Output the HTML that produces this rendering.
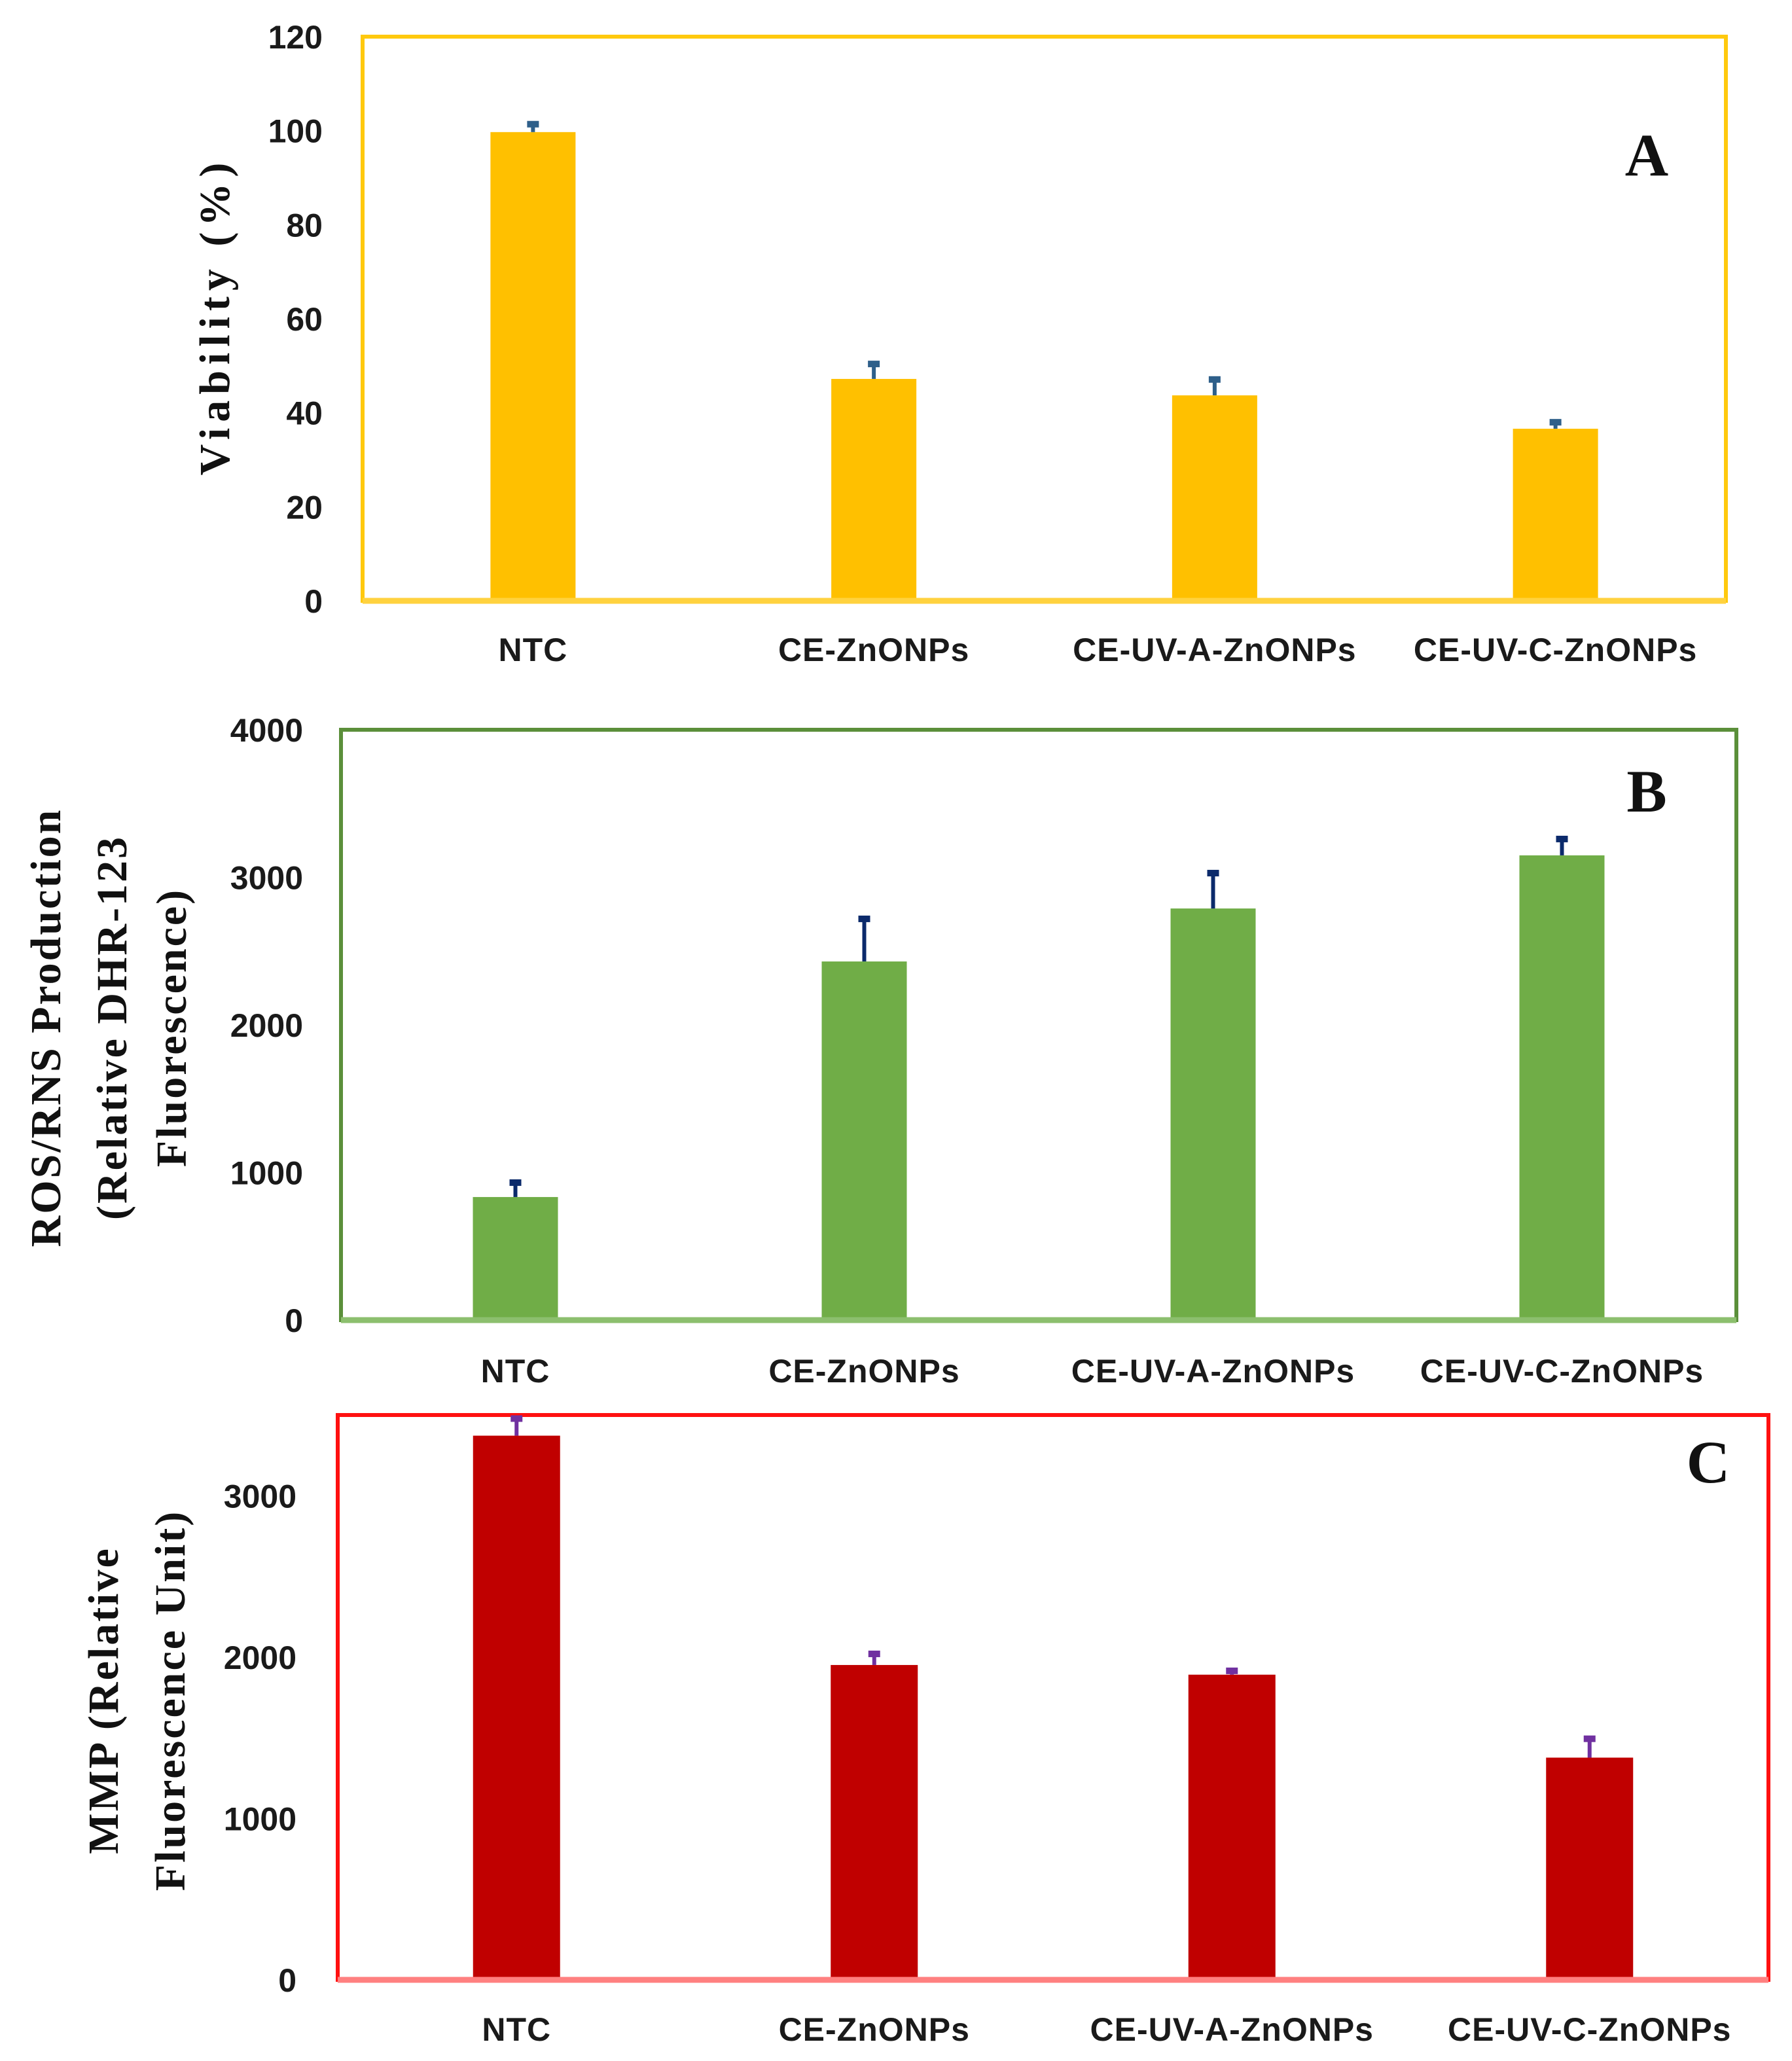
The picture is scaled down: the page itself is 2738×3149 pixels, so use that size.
<!DOCTYPE html>
<html><head><meta charset="utf-8"><style>
html,body{margin:0;padding:0;background:#fff;}
svg{display:block;}
.tick{font-family:"Liberation Sans",sans-serif;font-weight:bold;font-size:50px;fill:#1a1a1a;}
.cat{font-family:"Liberation Sans",sans-serif;font-weight:bold;font-size:50px;fill:#1a1a1a;letter-spacing:1px;}
.ttl{font-family:"Liberation Serif",serif;font-weight:bold;font-size:66px;fill:#111;letter-spacing:3px;}
.ttlA{letter-spacing:9px;}
.pl{font-family:"Liberation Serif",serif;font-weight:bold;font-size:92px;fill:#111;}
</style></head><body>
<svg id="chart" width="2738" height="3149" viewBox="0 0 2738 3149" xmlns="http://www.w3.org/2000/svg">
<rect x="0" y="0" width="2738" height="3149" fill="#fff"/>
</svg>
<script>
const categories = ["NTC","CE-ZnONPs","CE-UV-A-ZnONPs","CE-UV-C-ZnONPs"];
const viabilityValues = [99.7, 47.2, 43.7, 36.6];
const viabilityErrTop = [101.8, 50.8, 47.5, 38.4];
const viabilityTicks = [0,20,40,60,80,100,120];
const rosValues = [834, 2430, 2789, 3149];
const rosErrTop = [945, 2732, 3042, 3273];
const rosTicks = [0,1000,2000,3000,4000];
const mmpValues = [3372, 1951, 1891, 1377];
const mmpErrTop = [3490, 2032, 1927, 1506];
const mmpTicks = [0,1000,2000,3000];

const NS="http://www.w3.org/2000/svg";
const svg=document.getElementById('chart');
function mk(tag,attrs,parent){const e=document.createElementNS(NS,tag);for(const k in attrs)e.setAttribute(k,attrs[k]);(parent||svg).appendChild(e);return e;}

function panel(o){
  const g=mk('g',{});
  
  
  const y=v=>o.bottom-(v-0)/(o.max)*(o.bottom-o.top);
  const band=(o.right-o.left)/categories.length;
  const xc=i=>o.left+band*(i+0.5);
  const fr=mk('rect',{x:o.left,y:o.top,width:o.right-o.left,height:o.bottom-o.top,fill:'none',stroke:o.frame,'stroke-width':6},g);
  
  
  o.ticks.forEach(t=>{
    const tx=mk('text',{x:o.tickX,y:y(t)+18,'text-anchor':'end',class:'tick'},g);
    tx.textContent=t;
    
    
  });
  o.values.forEach((v,i)=>{
    const b=mk('rect',{x:xc(i)-o.bw/2,y:y(v),width:o.bw,height:o.bottom-y(v),fill:o.bar},g);
    
    
    const e=o.err[i];
    const l=mk('line',{x1:xc(i),x2:xc(i),y1:y(v),y2:y(e),stroke:o.errc,'stroke-width':6},g);
    
    
    const c=mk('rect',{x:xc(i)-9,y:y(e)-2,width:18,height:10,fill:o.errc},g);
    
    
    const t=mk('text',{x:xc(i),y:o.catY,'text-anchor':'middle',class:'cat'},g);
    t.textContent=categories[i];
    
    
  });
  const base=mk('line',{x1:o.left,x2:o.right,y1:o.bottom,y2:o.bottom,stroke:o.base,'stroke-width':9},g);
  
  
  const pl=mk('text',{x:o.plX,y:o.plY,'text-anchor':'middle',class:'pl'},g);
  pl.textContent=o.letter;
  
  
  o.title.forEach((line,k)=>{
    const t=mk('text',{x:0,y:0,'text-anchor':'middle',class:'ttl '+(o.tcls||''),transform:`translate(${o.titleX[k]+22},${o.titleY}) rotate(-90)`},g);
    t.textContent=line;
    
    
  });
}

panel({name:'viability',left:554,right:2637,top:56,bottom:918,max:120,ticks:viabilityTicks,values:viabilityValues,err:viabilityErrTop,
  bar:'#FFC000',frame:'#FFC90E',base:'#FFD23F',errc:'#2E5F8A',bw:130,tickX:493,catY:1010,plX:2516,plY:268,letter:'A',
  title:['Viability (%)'],titleX:[328],titleY:483,tcls:'ttlA'});
panel({name:'ros',left:521,right:2653,top:1115,bottom:2017,max:4000,ticks:rosTicks,values:rosValues,err:rosErrTop,
  bar:'#70AD47',frame:'#5B8F3A',base:'#8CBF6E',errc:'#0B2A6B',bw:130,tickX:463,catY:2112,plX:2516,plY:1240,letter:'B',
  title:['ROS/RNS Production','(Relative DHR-123','Fluorescence)'],titleX:[70,171,262],titleY:1570});
panel({name:'mmp',left:516,right:2702,top:2162,bottom:3025,max:3500,ticks:mmpTicks,values:mmpValues,err:mmpErrTop,
  bar:'#C00000',frame:'#FF1010',base:'#FF8080',errc:'#7030A0',bw:133,tickX:453,catY:3118,plX:2610,plY:2265,letter:'C',
  title:['MMP (Relative','Fluorescence Unit)'],titleX:[158,260],titleY:2598});
</script>
</body></html>
